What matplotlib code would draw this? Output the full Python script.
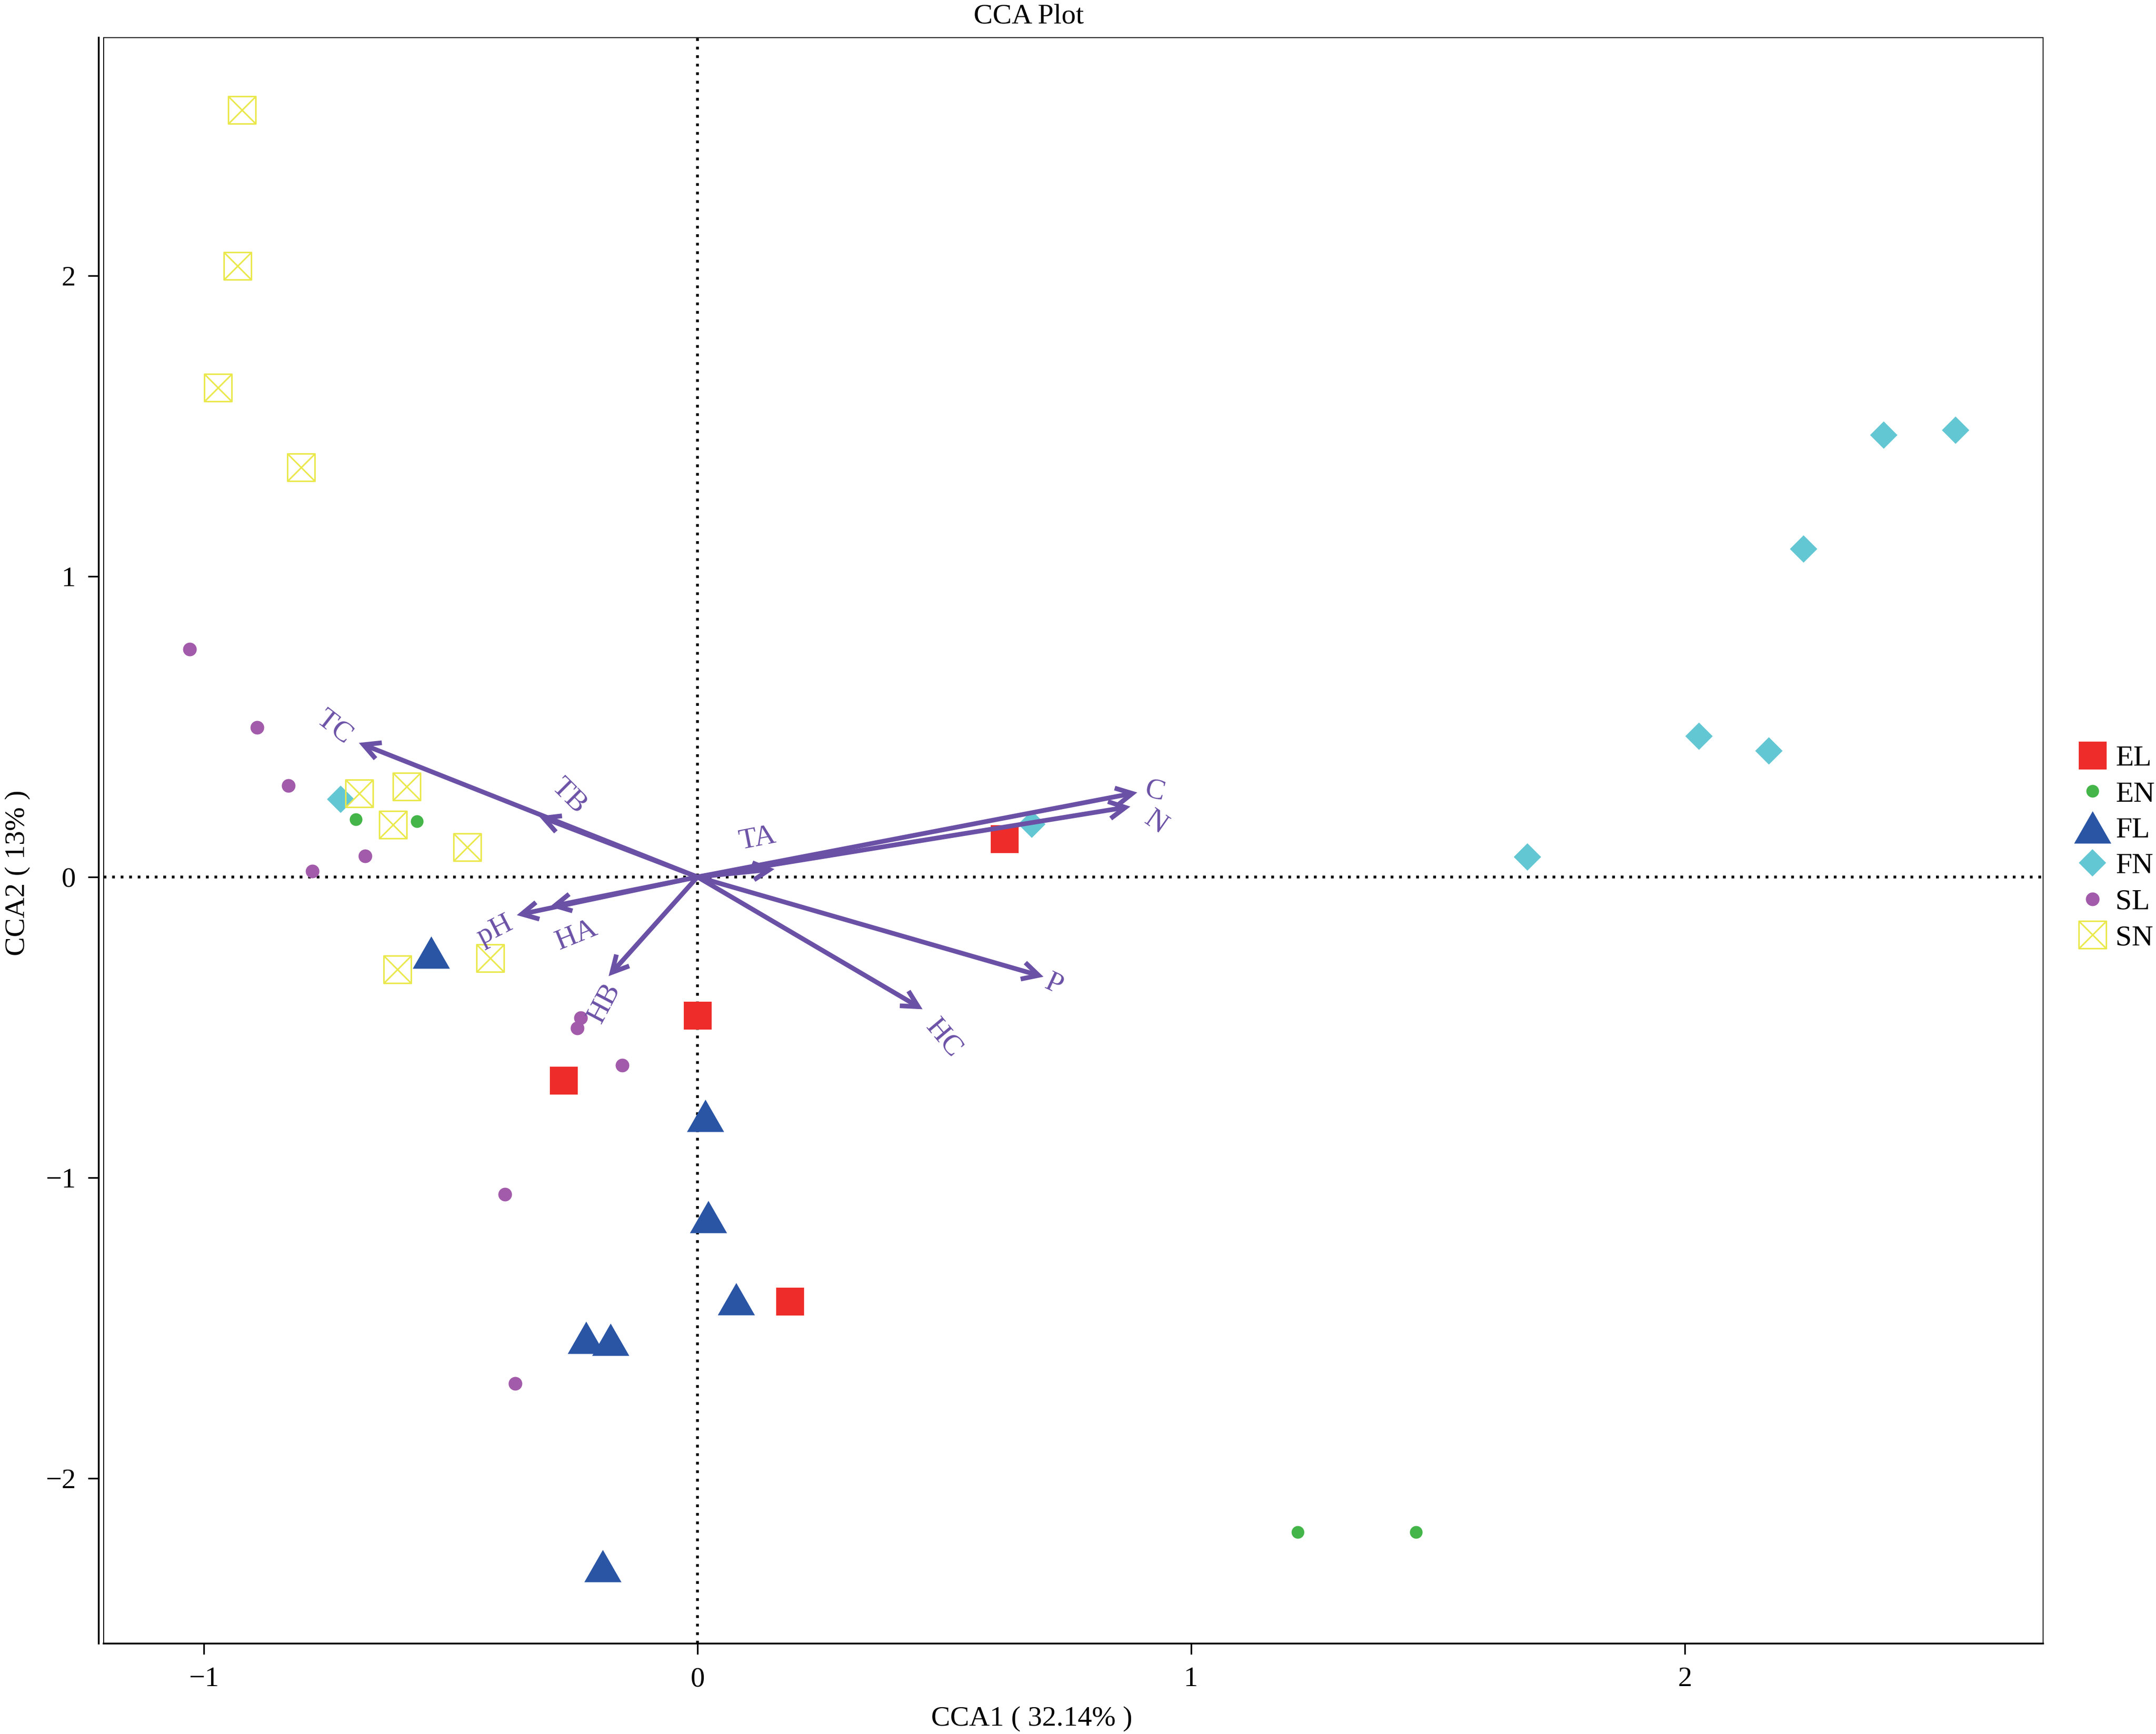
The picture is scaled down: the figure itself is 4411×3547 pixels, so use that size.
import matplotlib
matplotlib.use("Agg")
import matplotlib.pyplot as plt
from matplotlib.path import Path
from matplotlib.patches import Rectangle
import numpy as np

plt.rcParams['font.family'] = ['Liberation Serif', 'DejaVu Serif']
plt.rcParams['axes.unicode_minus'] = True

# ---------------- data ----------------
groups = ["EL", "EN", "FL", "FN", "SL", "SN"]

EL_x = [0.622, 0.000, -0.271, 0.187]
EL_y = [0.127, -0.460, -0.676, -1.411]

EN_x = [-0.692, -0.568, 1.216, 1.456]
EN_y = [0.192, 0.185, -2.179, -2.179]

FL_x = [-0.540, 0.016, 0.022, 0.078, -0.226, -0.176, -0.192]
FL_y = [-0.251, -0.794, -1.130, -1.403, -1.532, -1.538, -2.291]

FN_x = [2.549, 2.403, 2.241, 2.029, 2.171, 1.681, 0.677, -0.723]
FN_y = [1.486, 1.470, 1.091, 0.468, 0.420, 0.067, 0.175, 0.259]

SL_x = [-1.029, -0.892, -0.829, -0.780, -0.673, -0.237, -0.244, -0.152, -0.390, -0.369]
SL_y = [0.758, 0.497, 0.304, 0.020, 0.070, -0.468, -0.502, -0.627, -1.055, -1.685]

SN_x = [-0.923, -0.932, -0.971, -0.803, -0.685, -0.589, -0.617, -0.466, -0.608, -0.420]
SN_y = [2.551, 2.033, 1.628, 1.362, 0.278, 0.301, 0.174, 0.099, -0.307, -0.270]

env_names = ["TC", "TB", "TA", "C", "N", "pH", "HA", "HB", "HC", "P"]
env_x = [-0.686, -0.321, 0.156, 0.891, 0.877, -0.366, -0.299, -0.180, 0.456, 0.701]
env_y = [0.446, 0.202, 0.026, 0.281, 0.234, -0.127, -0.099, -0.330, -0.440, -0.332]
lab_x = [-0.735, -0.260, 0.122, 0.926, 0.928, -0.410, -0.245, -0.188, 0.498, 0.721]
lab_y = [0.497, 0.267, 0.127, 0.284, 0.180, -0.177, -0.194, -0.421, -0.536, -0.359]
lab_rot = [-38, -45, 11, -14, -35, 27, 22, 62, -50, -25]

x_ticks = [-1, 0, 1, 2]
y_ticks = [-2, -1, 0, 1, 2]

title = "CCA Plot"
xlab = "CCA1 ( 32.14% )"
ylab = "CCA2 ( 13% )"

# ---------------- styles ----------------
W, H = 4411, 3547
DPI = 300
fig = plt.figure(figsize=(W / DPI, H / DPI), dpi=DPI)
ax = fig.add_axes([212 / W, 1 - 3362 / H, (4180 - 212) / W, (3362 - 77.5) / H])
ax.set_xlim(-1.203, 2.726)
ax.set_ylim(-2.550, 2.791)

arrow_col = "#6B51A6"
c_EL = "#EE2D2A"
c_EN = "#44B549"
c_FL = "#2A55A5"
c_FN = "#63C7D3"
c_SL = "#A25BAA"
c_SN = "#EAE84C"

px = 72 / DPI  # points per pixel

tri = Path([(0, 0.87), (-1, -0.87), (1, -0.87), (0, 0.87)],
           [Path.MOVETO, Path.LINETO, Path.LINETO, Path.CLOSEPOLY])
boxx = Path([(-1, -1), (1, -1), (1, 1), (-1, 1), (-1, -1),
             (-1, -1), (1, 1), (-1, 1), (1, -1)],
            [Path.MOVETO, Path.LINETO, Path.LINETO, Path.LINETO, Path.CLOSEPOLY,
             Path.MOVETO, Path.LINETO, Path.MOVETO, Path.LINETO])

# dotted reference lines
ax.axhline(0, color="black", lw=1.35, ls=(0, (1, 2.1)), zorder=1)
ax.axvline(0, color="black", lw=1.35, ls=(0, (1, 2.1)), zorder=1)

ax.plot(EL_x, EL_y, ls="none", marker="s", ms=57 * px, mfc=c_EL, mec="none", label="EL", zorder=3)
ax.plot(EN_x, EN_y, ls="none", marker="o", ms=26 * px, mfc=c_EN, mec="none", label="EN", zorder=3)
ax.plot(FL_x, FL_y, ls="none", marker=tri, ms=76 * px, mfc=c_FL, mec="none", label="FL", zorder=3)
ax.plot(FN_x, FN_y, ls="none", marker="D", ms=40 * px, mfc=c_FN, mec="none", label="FN", zorder=3)
ax.plot(SL_x, SL_y, ls="none", marker="o", ms=28 * px, mfc=c_SL, mec="none", label="SL", zorder=3)
ax.plot(SN_x, SN_y, ls="none", marker=boxx, ms=56 * px, mfc="none", mec=c_SN, mew=0.75, label="SN", zorder=3)

# environmental arrows
for name, x, y, lx, ly, r in zip(env_names, env_x, env_y, lab_x, lab_y, lab_rot):
    ax.annotate("", xy=(x, y), xytext=(0, 0),
                arrowprops=dict(arrowstyle="->,head_length=0.8,head_width=0.42",
                                color=arrow_col, lw=2.3, shrinkA=0, shrinkB=0,
                                mutation_scale=10, capstyle="butt", joinstyle="miter"),
                zorder=4)
    ax.text(lx, ly, name, rotation=r, rotation_mode="anchor", ha="center", va="center",
            color=arrow_col, fontsize=14.5, zorder=5)

# axes styling (R-like: thick axis lines, thin box)
for s in ["top", "right"]:
    ax.spines[s].set_visible(False)
ax.spines["left"].set_position(("outward", 10 * px))
ax.spines["left"].set_linewidth(0.85)
ax.spines["bottom"].set_linewidth(0.85)
ax.add_patch(Rectangle((0, 0), 1, 1, transform=ax.transAxes, fill=False,
                       lw=0.45, ec="black", clip_on=False, zorder=6))

ax.set_xticks(x_ticks)
ax.set_yticks(y_ticks)
ax.tick_params(axis="both", direction="out", length=22 * px, width=0.8,
               labelsize=14, pad=6)

fig.text(2105 / W, 1 - 48 / H, title, ha="center", va="baseline", fontsize=14)
fig.text(2111 / W, 1 - 3530 / H, xlab, ha="center", va="baseline", fontsize=14)
fig.text(36 / W, 1 - 1786 / H, ylab, ha="center", va="center", rotation=90, fontsize=14)

leg = ax.legend(loc="center left", bbox_to_anchor=(4251 / W, 1 - 1735 / H),
                bbox_transform=fig.transFigure, frameon=False, fontsize=14.5,
                handlelength=1.0, handletextpad=0.28, labelspacing=0.3,
                borderpad=0, borderaxespad=0, markerscale=1)

fig.savefig("out.png", dpi=DPI)
